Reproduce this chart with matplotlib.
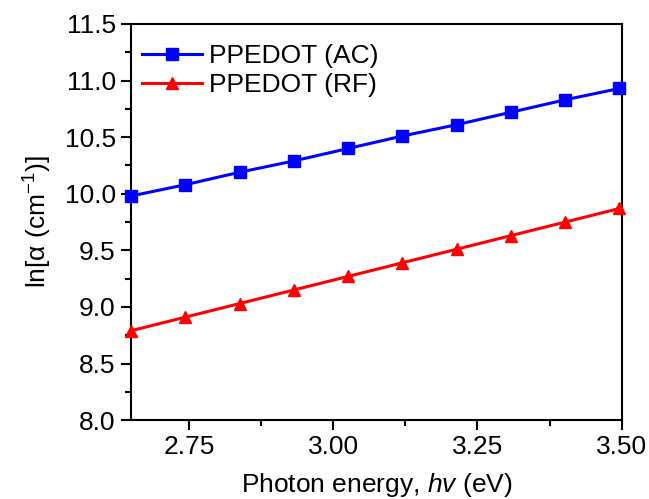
import matplotlib
matplotlib.use('Agg')
import matplotlib.pyplot as plt
from matplotlib.ticker import MultipleLocator

plt.rcParams['font.family'] = 'Liberation Sans'
plt.rcParams['mathtext.fontset'] = 'custom'
plt.rcParams['mathtext.rm'] = 'Liberation Sans'
plt.rcParams['mathtext.it'] = 'Liberation Sans:italic'

# data
energy = [2.650, 2.744, 2.838, 2.932, 3.026, 3.120, 3.214, 3.308, 3.402, 3.496]
ln_alpha_ac = [9.98, 10.08, 10.19, 10.29, 10.40, 10.51, 10.61, 10.72, 10.83, 10.93]
ln_alpha_rf = [8.79, 8.91, 9.03, 9.15, 9.27, 9.39, 9.51, 9.63, 9.75, 9.87]

fig = plt.figure(figsize=(6.49, 4.99), dpi=100)
ax = fig.add_axes([0.202, 0.158, 0.756, 0.794])

ax.plot(energy, ln_alpha_ac, color='#0000ff', lw=2.2, marker='s', ms=8,
        label='PPEDOT (AC)', clip_on=False, zorder=3)
ax.plot(energy, ln_alpha_rf, color='#ff0000', lw=2.2, marker='^', ms=9,
        label='PPEDOT (RF)', clip_on=False, zorder=3)

ax.set_xlim(2.65, 3.50)
ax.set_ylim(8.0, 11.5)
ax.xaxis.set_major_locator(MultipleLocator(0.25))
ax.xaxis.set_minor_locator(MultipleLocator(0.125))
ax.yaxis.set_major_locator(MultipleLocator(0.5))
ax.yaxis.set_minor_locator(MultipleLocator(0.25))
ax.xaxis.set_major_formatter(plt.FormatStrFormatter('%.2f'))
ax.yaxis.set_major_formatter(plt.FormatStrFormatter('%.1f'))

for s in ax.spines.values():
    s.set_linewidth(1.5)
ax.tick_params(which='major', length=7, width=1.5, labelsize=19, direction='out', pad=4)
ax.tick_params(which='minor', length=4, width=1.5, direction='out')

ax.set_xlabel('Photon energy, $hv$ (eV)', fontsize=19, labelpad=8)
ax.set_ylabel('ln[α (cm$^{-1}$)]', fontsize=19, labelpad=8)

ax.legend(loc='upper left', bbox_to_anchor=(0.012, 0.963), frameon=False,
          fontsize=19, handlelength=2.27, borderaxespad=0, borderpad=0.2,
          labelspacing=0.2, handletextpad=0.27)

fig.savefig('out.png', dpi=100)
